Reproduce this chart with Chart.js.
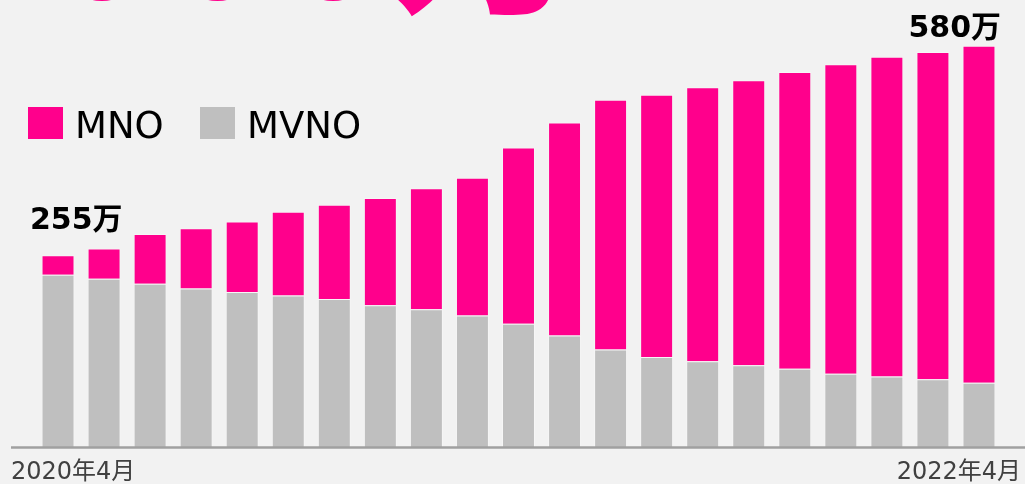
<!DOCTYPE html>
<html>
<head>
<meta charset="utf-8">
<script src="https://cdn.jsdelivr.net/npm/chart.js"></script>
<style>
  body { margin: 0; background: #f2f2f2; }
  #wrap { width: 1025px; height: 484px; position: relative; }
</style>
</head>
<body>
<div id="wrap"><canvas id="myChart"></canvas></div>
<script>
"use strict"

// Chart data (万)
const categories = ["2020年4月", "", "", "", "", "", "", "", "", "", "", "", "", "", "", "", "", "", "", "", "2022年4月"];
const mvnoValues = [249, 243, 236, 229, 224, 219, 214, 205, 199, 190, 178, 161, 141, 130, 124, 118, 113, 106, 102, 98, 93];
const mnoValues = [28, 44, 72, 87, 102, 121, 136, 155, 175, 199, 255, 308, 361, 379, 396, 412, 429, 447, 462, 473, 487];
const seriesNames = ["MNO", "MVNO"];
const endLabels = ["255万", "580万"];
const headline = "000万";

const pink = "#ff008c";
const grey = "#bfbfbf";

const decorations = {
    id: 'decorations',
    afterDraw(chart) {
        const { ctx, chartArea: { bottom } } = chart;
        ctx.save();

        // cut-off headline at the very top
        ctx.fillStyle = pink;
        ctx.font = "bold 196px 'Noto Sans CJK JP'";
        ctx.textBaseline = "alphabetic";
        ctx.textAlign = "left";
        ctx.fillText(headline, 44, -2);

        // baseline axis
        ctx.strokeStyle = "#a0a0a0";
        ctx.lineWidth = 2.5;
        ctx.beginPath();
        ctx.moveTo(11, bottom + 0.5);
        ctx.lineTo(1025, bottom + 0.5);
        ctx.stroke();

        // first/last category labels
        ctx.fillStyle = "#404040";
        ctx.font = "24px 'DejaVu Sans', 'Noto Sans CJK JP'";
        ctx.textBaseline = "alphabetic";
        ctx.textAlign = "left";
        ctx.fillText(categories[0], 11, 479);
        ctx.textAlign = "right";
        ctx.fillText(categories[categories.length - 1], 1021, 479);

        // value labels above first and last bars
        ctx.fillStyle = "#000";
        ctx.font = "bold 30px 'DejaVu Sans', 'Noto Sans CJK JP'";
        ctx.textAlign = "left";
        ctx.fillText(endLabels[0], 30, 229);
        ctx.textAlign = "right";
        ctx.fillText(endLabels[1], 1001, 37);

        // legend
        const legendItems = [
            { text: seriesNames[0], color: pink, x: 28 },
            { text: seriesNames[1], color: grey, x: 200 }
        ];
        ctx.font = "37px 'DejaVu Sans'";
        ctx.textAlign = "left";
        legendItems.forEach(item => {
            ctx.fillStyle = item.color;
            ctx.fillRect(item.x, 107, 35, 32);
            ctx.fillStyle = "#000";
            ctx.fillText(item.text, item.x + 47, 138);
        });

        ctx.restore();
    }
};

new Chart(document.getElementById('myChart'), {
    type: 'bar',
    data: {
        labels: categories,
        datasets: [
            {
                label: seriesNames[1],
                data: mvnoValues,
                backgroundColor: grey,
                borderColor: "rgba(255,255,255,0.3)",
                borderWidth: 1,
                barPercentage: 0.716,
                categoryPercentage: 1
            },
            {
                label: seriesNames[0],
                data: mnoValues,
                backgroundColor: pink,
                borderColor: "rgba(255,255,255,0.3)",
                borderWidth: 1,
                barPercentage: 0.716,
                categoryPercentage: 1
            }
        ]
    },
    options: {
        responsive: true,
        maintainAspectRatio: false,
        animation: false,
        layout: { padding: { left: 35, right: 23, top: 0, bottom: 37 } },
        plugins: {
            legend: { display: false },
            tooltip: { enabled: false }
        },
        scales: {
            x: { stacked: true, display: false },
            y: { stacked: true, display: false, min: 0, max: 646 }
        }
    },
    plugins: [decorations]
});
</script>
</body>
</html>
